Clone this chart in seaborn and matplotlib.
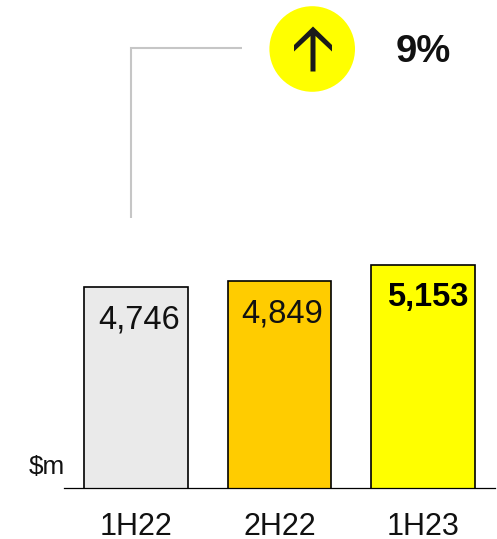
import matplotlib
matplotlib.use("Agg")
import matplotlib.pyplot as plt
from matplotlib.lines import Line2D
from matplotlib.patches import Circle, Polygon
import pandas as pd
import seaborn as sns

periods = ["1H22", "2H22", "1H23"]
revenue = [4746, 4849, 5153]
bar_colors = ["#EAEAEA", "#FFCC00", "#FFFF00"]
value_labels = ["4,746", "4,849", "5,153"]
label_shift = [3.5, 3, 4.5]

W, H = 497, 539
sns.set_theme(style="white")
plt.rcParams["font.family"] = ["Liberation Sans", "DejaVu Sans"]

fig = plt.figure(figsize=(W / 100, H / 100), dpi=100)
# axes runs along the baseline, the value axis does not start at zero in the original
ax = fig.add_axes([64 / W, 1 - 487.5 / H, 431 / W, 487.5 / H])

df = pd.DataFrame({"period": periods, "revenue": revenue})
sns.barplot(data=df, x="period", y="revenue", hue="period", palette=bar_colors,
            legend=False, width=0.72, edgecolor="black", linewidth=1.2, saturation=1, ax=ax)

ax.set_xlim(-0.5, 2.5)
ax.set_ylim(1027, 10055)
ax.set_xlabel("")
ax.set_ylabel("")
ax.set_yticks([])
ax.tick_params(axis="x", length=0, labelsize=22, pad=17.5, colors="#111111")
for side in ["top", "left", "right"]:
    ax.spines[side].set_visible(False)
ax.spines["bottom"].set_linewidth(0.9)
ax.spines["bottom"].set_color("black")
ax.patch.set_alpha(0)

for i, (v, lab) in enumerate(zip(revenue, value_labels)):
    bold = i == 2
    ax.annotate(lab, (i, v), xytext=(label_shift[i], -33), textcoords="offset pixels",
                ha="center", va="center", fontsize=23.5, color="#111111" if not bold else "black",
                fontweight="bold" if bold else "normal")

# overlay in pixel coordinates for the annotation furniture
overlay = fig.add_axes([0, 0, 1, 1])
overlay.set_xlim(0, W)
overlay.set_ylim(H, 0)
overlay.axis("off")

overlay.text(46.5, 467.5, "$m", fontsize=18.8, ha="center", va="center", color="#111111")
overlay.add_line(Line2D([131.3, 131.3, 242.3], [218, 47.7, 47.7], color="#C6C6C6", lw=1.5,
                        solid_joinstyle="miter", solid_capstyle="butt"))

overlay.add_patch(Circle((312.2, 49), 42.8, color="#FFFF00", lw=0))
arrow = [(313, 26.5), (332, 45), (332, 51.5), (315.5, 36), (315.5, 71.5), (310.5, 71.5),
         (310.5, 36), (294, 51.5), (294, 45)]
overlay.add_patch(Polygon(arrow, closed=True, color="#1A1A1A", lw=0))
overlay.text(423.5, 52, "9%", fontsize=27.5, fontweight="bold", ha="center", va="center", color="#111111")

fig.savefig("out.png", dpi=100)
